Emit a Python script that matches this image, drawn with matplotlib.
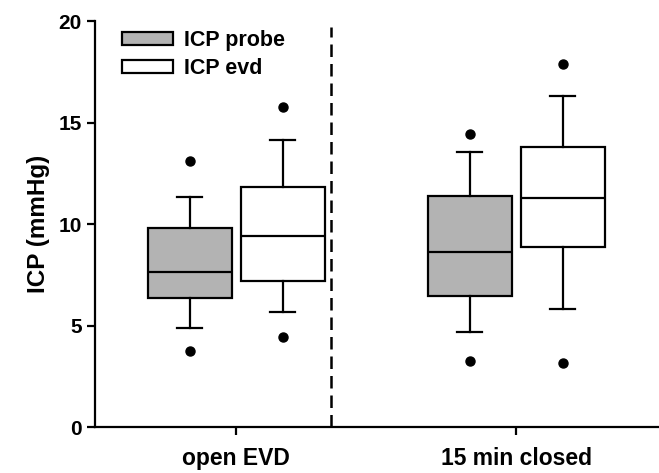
import numpy as np
import matplotlib
matplotlib.use("Agg")
from matplotlib import pyplot as plt
from matplotlib.patches import Patch

plt.rcParams['font.family'] = ['Liberation Sans', 'DejaVu Sans']
plt.rcParams['font.weight'] = 'bold'

# groups and series
groups = ["open EVD", "15 min closed"]
series = ["ICP probe", "ICP evd"]
fills = ["#b3b3b3", "white"]

# box statistics, [open EVD, 15 min closed]
probe_med = [7.63, 8.65]
probe_q1 = [6.38, 6.48]
probe_q3 = [9.83, 11.41]
probe_lo = [4.91, 4.71]
probe_hi = [11.36, 13.53]
probe_fliers = [[3.76, 13.12], [3.27, 14.45]]

evd_med = [9.44, 11.28]
evd_q1 = [7.21, 8.90]
evd_q3 = [11.82, 13.82]
evd_lo = [5.67, 5.83]
evd_hi = [14.12, 16.29]
evd_fliers = [[4.43, 15.79], [3.18, 17.88]]


def make_stats(med, q1, q3, lo, hi, fl):
    out = []
    for i in range(len(med)):
        out.append(dict(med=med[i], q1=q1[i], q3=q3[i], whislo=lo[i],
                        whishi=hi[i], fliers=fl[i]))
    return out


fig = plt.figure(figsize=(6.59, 4.73), dpi=100)
ax = fig.add_axes([0.144, 0.0966, 0.856, 0.859])

centers = np.arange(1, len(groups) + 1)
offset = 0.166
lw = 1.6
all_stats = [make_stats(probe_med, probe_q1, probe_q3, probe_lo, probe_hi, probe_fliers),
             make_stats(evd_med, evd_q1, evd_q3, evd_lo, evd_hi, evd_fliers)]

for k, stats in enumerate(all_stats):
    pos = centers + (offset if k else -offset)
    ax.bxp(stats, positions=pos, widths=0.3, capwidths=0.09, patch_artist=True,
           boxprops=dict(facecolor=fills[k], edgecolor='black', linewidth=lw),
           medianprops=dict(color='black', linewidth=lw),
           whiskerprops=dict(color='black', linewidth=lw),
           capprops=dict(color='black', linewidth=lw),
           flierprops=dict(marker='o', markerfacecolor='black', markeredgecolor='black',
                           markersize=6.5))

# dashed divider
ax.plot([1.34, 1.34], [0, 19.7], color='black', lw=1.8, ls=(0, (5, 2.8)))

ax.set_xlim(0.496, 2.51)
ax.set_ylim(0, 20)
ax.set_yticks([0, 5, 10, 15, 20])
ax.set_xticks(centers)
ax.set_xticklabels(groups, fontsize=16.5, fontweight='bold')
ax.tick_params(axis='y', labelsize=15, width=1.6, length=6, direction='out')
ax.tick_params(axis='x', width=1.6, length=6, direction='out', pad=8)
for lab in ax.get_yticklabels():
    lab.set_fontweight('bold')
ax.set_ylabel("ICP (mmHg)", fontsize=17.5, fontweight='bold', labelpad=6)

for s in ['top', 'right']:
    ax.spines[s].set_visible(False)
for s in ['left', 'bottom']:
    ax.spines[s].set_linewidth(1.6)

handles = [Patch(facecolor=fills[i], edgecolor='black', linewidth=1.6, label=series[i])
           for i in range(len(series))]
ax.legend(handles=handles, loc='upper left', bbox_to_anchor=(0.048, 0.977), frameon=False,
          borderpad=0, borderaxespad=0, handlelength=2.35, handleheight=0.58,
          handletextpad=0.55, labelspacing=0.3, prop=dict(weight='bold', size=15.5))

fig.savefig("out.png", dpi=100)
